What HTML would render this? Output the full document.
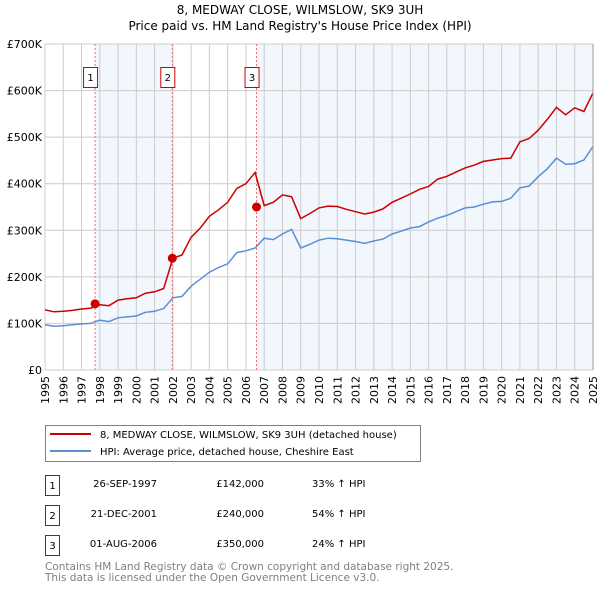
<!DOCTYPE html>
<html><head><meta charset="utf-8"><style>
body{margin:0;background:#fff;font-family:"DejaVu Sans","Liberation Sans",sans-serif;}
svg text{font-family:"DejaVu Sans","Liberation Sans",sans-serif;}
</style></head><body>
<svg id="c" width="600" height="590" xmlns="http://www.w3.org/2000/svg">
<text x="300" y="14" text-anchor="middle" font-size="12">8, MEDWAY CLOSE, WILMSLOW, SK9 3UH</text>
<text x="300" y="30" text-anchor="middle" font-size="12">Price paid vs. HM Land Registry's House Price Index (HPI)</text>
<g id="plot"></g>
<g>
<rect x="45.5" y="425.5" width="375" height="36" fill="#fff" stroke="#808080"/>
<line x1="50" y1="434" x2="91" y2="434" stroke="#cc0000" stroke-width="2"/>
<text x="100" y="438" font-size="10">8, MEDWAY CLOSE, WILMSLOW, SK9 3UH (detached house)</text>
<line x1="50" y1="451" x2="91" y2="451" stroke="#5b8fd4" stroke-width="2"/>
<text x="100" y="455" font-size="10">HPI: Average price, detached house, Cheshire East</text>
</g>
<g font-size="10">
<rect x="45.5" y="475.5" width="14" height="20" fill="#fff" stroke="#cc0000"/><text x="52.5" y="489" text-anchor="middle">1</text>
<text x="157" y="487" text-anchor="end">26-SEP-1997</text><text x="264" y="487" text-anchor="end">£142,000</text><text x="312" y="487">33% ↑ HPI</text>
<rect x="45.5" y="505.5" width="14" height="20" fill="#fff" stroke="#cc0000"/><text x="52.5" y="519" text-anchor="middle">2</text>
<text x="157" y="517" text-anchor="end">21-DEC-2001</text><text x="264" y="517" text-anchor="end">£240,000</text><text x="312" y="517">54% ↑ HPI</text>
<rect x="45.5" y="535.5" width="14" height="20" fill="#fff" stroke="#cc0000"/><text x="52.5" y="549" text-anchor="middle">3</text>
<text x="157" y="547" text-anchor="end">01-AUG-2006</text><text x="264" y="547" text-anchor="end">£350,000</text><text x="312" y="547">24% ↑ HPI</text>
</g>
<text x="45" y="570" font-size="10.5" fill="#808080">Contains HM Land Registry data © Crown copyright and database right 2025.</text>
<text x="45" y="581" font-size="10.5" fill="#808080">This data is licensed under the Open Government Licence v3.0.</text>
</svg>
<script>
const hpiYears=[1995,1995.5,1996,1996.5,1997,1997.5,1998,1998.5,1999,1999.5,2000,2000.5,2001,2001.5,2002,2002.5,2003,2003.5,2004,2004.5,2005,2005.5,2006,2006.5,2007,2007.5,2008,2008.5,2009,2009.5,2010,2010.5,2011,2011.5,2012,2012.5,2013,2013.5,2014,2014.5,2015,2015.5,2016,2016.5,2017,2017.5,2018,2018.5,2019,2019.5,2020,2020.5,2021,2021.5,2022,2022.5,2023,2023.5,2024,2024.5,2025];
const hpiValues=[97,94,95,97,99,100,107,104,112,114,116,124,126,132,155,158,180,195,210,220,228,252,256,262,283,280,292,302,262,270,279,283,282,279,276,272,277,281,292,298,305,308,318,326,332,340,348,350,356,361,362,369,391,395,415,432,455,442,443,451,480];
const priceValues=[129,125,126,128,131,133,140,138,150,153,155,165,168,175,240,247,285,305,330,344,360,390,400,424,353,360,376,372,325,336,348,352,351,345,340,335,339,346,360,369,378,388,394,410,416,425,434,440,448,451,454,455,490,497,515,538,564,548,563,555,595];
const saleYears=[1997.74,2001.97,2006.58];
const salePrices=[142,240,350];
const yTicks=[0,100,200,300,400,500,600,700];
const yTickLabels=["£0","£100K","£200K","£300K","£400K","£500K","£600K","£700K"];
const xTicks=[1995,1996,1997,1998,1999,2000,2001,2002,2003,2004,2005,2006,2007,2008,2009,2010,2011,2012,2013,2014,2015,2016,2017,2018,2019,2020,2021,2022,2023,2024,2025];
const NS="http://www.w3.org/2000/svg";
const X0=45,X1=593,Y0=370,Y1=44;
function xs(t){return X0+(t-1995)/30*(X1-X0);}
function ys(v){return Y0-v/700*(Y0-Y1);}
const g=document.getElementById('plot');
function mk(tag,attrs){const e=document.createElementNS(NS,tag);for(const k in attrs)e.setAttribute(k,attrs[k]);g.appendChild(e);return e;}
const bg=mk('rect',{x:X0,y:Y1,width:X1-X0,height:Y0-Y1,fill:'#fff'});


const sh1=mk('rect',{x:xs(saleYears[0]),y:Y1,width:xs(saleYears[1])-xs(saleYears[0]),height:Y0-Y1,fill:'#f2f6fd'});


const sh2=mk('rect',{x:xs(saleYears[2]),y:Y1,width:X1-xs(saleYears[2]),height:Y0-Y1,fill:'#f2f6fd'});


xTicks.forEach(t=>{
 const l=mk('line',{x1:xs(t),x2:xs(t),y1:Y1,y2:Y0,stroke:'#cccccc','stroke-width':1});
 
 
 const tx=mk('text',{x:0,y:0,'font-size':11,'text-anchor':'end',transform:`translate(${xs(t)+4},${Y0+6}) rotate(-90)`});
 tx.textContent=t;
 
 
});
yTicks.forEach((v,i)=>{
 const l=mk('line',{x1:X0,x2:X1,y1:ys(v),y2:ys(v),stroke:'#cccccc','stroke-width':1});
 
 
 const tx=mk('text',{x:X0-3,y:ys(v)+4,'font-size':11,'text-anchor':'end'});
 tx.textContent=yTickLabels[i];
 
 
});
saleYears.forEach((t,i)=>{
 const l=mk('line',{x1:xs(t),x2:xs(t),y1:Y1,y2:Y0,stroke:'#ff6666','stroke-width':1,'stroke-dasharray':'2,2'});
 
 
 const r=mk('rect',{x:xs(t)-11.5,y:67.5,width:14,height:20,fill:'#fff',stroke:'#cc0000'});
 
 
 const tx=mk('text',{x:xs(t)-4.5,y:81,'font-size':10,'text-anchor':'middle'});
 tx.textContent=String(i+1);
 
 
});
function pathFrom(xsArr,vals){return xsArr.map((t,i)=>(i?'L':'M')+xs(t).toFixed(1)+','+ys(vals[i]).toFixed(1)).join(' ');}
const hp=mk('path',{d:pathFrom(hpiYears,hpiValues),fill:'none',stroke:'#5b8fd4','stroke-width':1.5});


const pp=mk('path',{d:pathFrom(hpiYears,priceValues),fill:'none',stroke:'#cc0000','stroke-width':1.5});


saleYears.forEach((t,i)=>{
 const c=mk('circle',{cx:xs(t),cy:ys(salePrices[i]),r:4.5,fill:'#cc0000'});
 
 
});
const ax=mk('line',{x1:X1,x2:X1,y1:Y1,y2:Y0,stroke:'#999','stroke-width':1});


</script>
</body></html>
